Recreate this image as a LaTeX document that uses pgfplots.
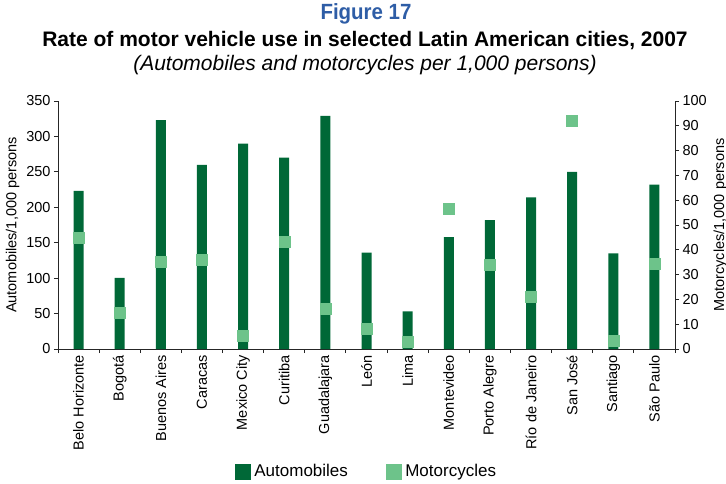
\documentclass[border=0pt]{standalone}
\usepackage{pgfplots}
\usepackage{pgfplotstable}
\pgfplotsset{compat=1.18}
\usepackage{fontspec}
\setmainfont{Liberation Sans}
\definecolor{autogreen}{HTML}{006837}
\definecolor{motogreen}{HTML}{6DC38A}
\definecolor{figblue}{HTML}{2E5DA6}
\pgfplotstableread{
idx auto moto
0 223 44.8
1 100.5 14.6
2 323 35.2
3 260 36.1
4 290 5.4
5 270 43.1
6 329 16.2
7 136 8.2
8 53 2.9
9 158 56.7
10 182 34.0
11 214 20.9
12 250 92.2
13 135 3.5
14 232 34.4
}\datatable
\begin{document}
\begin{tikzpicture}[font=\fontsize{14.5bp}{16bp}\selectfont]
\useasboundingbox (-58bp,-135bp) rectangle (668bp,349bp);
\begin{axis}[
  at={(0,0)}, anchor=south west,
  scale only axis, width=617bp, height=248bp,
  xmin=-0.5, xmax=14.5, ymin=0, ymax=350,
  axis x line*=bottom, axis y line*=left,
  axis line style={line width=0.9bp, black!85, -},
  xtick={0,...,14},
  xticklabels={Belo Horizonte, Bogotá, Buenos Aires, Caracas, Mexico City, Curitiba, Guadalajara, León, Lima, Montevideo, Porto Alegre, Río de Janeiro, San José, Santiago, São Paulo},
  minor xtick={-0.5,0.5,...,14.5},
  major x tick style={draw=none},
  minor x tick style={line width=0.9bp, black!85},
  minor tick length=4bp,
  xtick align=outside, ytick align=outside,
  major tick length=4bp,
  y tick style={line width=0.9bp, black!85},
  x tick label style={rotate=90, anchor=east, font=\fontsize{14.5bp}{16bp}\selectfont, inner sep=2bp},
  ytick={0,50,...,350},
  y tick label style={font=\fontsize{14.5bp}{16bp}\selectfont},
  /pgf/number format/assume math mode=true,
  ylabel={Automobiles/1,000 persons},
  ylabel style={font=\fontsize{14.5bp}{16bp}\selectfont},
  legend columns=2,
  legend style={at={(0.5,-0.494)}, anchor=center, draw=none, fill=none, font=\fontsize{17bp}{19bp}\selectfont,
    /tikz/every even column/.append style={column sep=36bp}},
  legend cell align=left,
]
\addplot[ybar, bar width=10bp, fill=autogreen, draw=none, forget plot] table[x=idx,y=auto]{\datatable};
\addlegendimage{legend image code/.code={\fill[autogreen] (0bp,-7.5bp) rectangle (15bp,7.5bp); \path (17bp,0bp);}}
\addlegendentry{Automobiles}
\addlegendimage{legend image code/.code={\fill[motogreen] (0bp,-7.5bp) rectangle (15bp,7.5bp); \path (17bp,0bp);}}
\addlegendentry{Motorcycles}
\end{axis}
\begin{axis}[
  at={(0,0)}, anchor=south west,
  scale only axis, width=617bp, height=248bp,
  xmin=-0.5, xmax=14.5, ymin=0, ymax=100,
  axis x line=none, axis y line*=right,
  axis line style={line width=0.9bp, black!85, -},
  ytick={0,10,...,100},
  ytick align=outside, major tick length=4bp,
  y tick style={line width=0.9bp, black!85},
  y tick label style={font=\fontsize{14.5bp}{16bp}\selectfont},
  /pgf/number format/assume math mode=true,
  ylabel={Motorcycles/1,000 persons},
  ylabel style={font=\fontsize{14.5bp}{16bp}\selectfont},
]
\addplot[only marks, mark=square*, mark size=5.5bp, mark options={fill=motogreen, draw=motogreen}] table[x=idx,y=moto]{\datatable};
\end{axis}
\node[font=\fontsize{22bp}{24bp}\selectfont\bfseries, text=figblue] at (308bp,335bp) {\scalebox{0.93}[1]{Figure 17}};
\node[font=\fontsize{21bp}{23bp}\selectfont\bfseries] at (307bp,308bp) {Rate of motor vehicle use in selected Latin American cities, 2007};
\node[font=\fontsize{21bp}{23bp}\selectfont\itshape] at (307bp,284bp) {(Automobiles and motorcycles per 1,000 persons)};
\end{tikzpicture}
\end{document}
